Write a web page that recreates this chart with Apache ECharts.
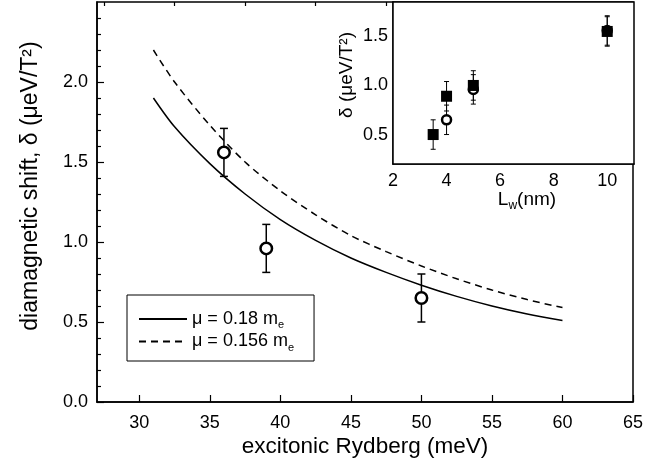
<!DOCTYPE html>
<html>
<head>
<meta charset="utf-8">
<script src="https://cdn.jsdelivr.net/npm/echarts@6/dist/echarts.min.js"></script>
<style>
html, body { margin: 0; padding: 0; background: #fff; }
#chart { width: 670px; height: 470px; }
</style>
</head>
<body>
<div id="chart"></div>
<script>
// Measured diamagnetic shifts vs. excitonic Rydberg
const rydberg = [36, 39, 50];
const shift = [1.56, 0.96, 0.65];
const shiftErr = [0.15, 0.15, 0.15];

// Calculated shift for two reduced masses
const curveRydberg = [31, 32.5, 35, 37.5, 40, 42.5, 45, 47.5, 50, 52.5, 55, 57.5, 60];
const curveMu018 = [1.90, 1.72, 1.49, 1.30, 1.14, 1.01, 0.90, 0.81, 0.73, 0.66, 0.60, 0.55, 0.51];
const curveMu0156 = [2.20, 2.00, 1.73, 1.50, 1.32, 1.17, 1.04, 0.94, 0.85, 0.77, 0.70, 0.64, 0.59];
const curveNames = ['μ = 0.18 m_e', 'μ = 0.156 m_e'];

// Main axis ticks
const mainXTicks = [30, 35, 40, 45, 50, 55, 60, 65];
const mainXMinorTicks = [27.5, 32.5, 37.5, 42.5, 47.5, 52.5, 57.5, 62.5];
const mainYTicks = [0, 0.5, 1.0, 1.5, 2.0];

// Inset: shift vs. well width
const wellWidthSq = [3.5, 4, 5, 10];
const deltaSq = [0.50, 0.89, 1.00, 1.55];
const deltaSqErr = [0.15, 0.15, 0.15, 0.15];
const wellWidthCirc = [4, 5, 10];
const deltaCirc = [0.65, 0.96, 1.56];
const deltaCircErr = [0.15, 0.15, 0.15];

const insetXTicks = [2, 4, 6, 8, 10];
const insetXMinorTicks = [3, 5, 7, 9];
const insetYTicks = [0.5, 1.0, 1.5];
const insetYMinorTicks = [0.25, 0.75, 1.25, 1.75];

const FONT = '"Liberation Sans", Arial, Helvetica, sans-serif';
const BLACK = '#000';

function zip(xs, ys) { return xs.map((x, i) => [x, ys[i]]); }

function majorAxis(opts) {
  return Object.assign({
    type: 'value',
    axisLine: { show: true, lineStyle: { color: BLACK, width: 1.5 } },
    splitLine: { show: false }
  }, opts);
}

function ticks(values, len) {
  return { show: true, inside: true, length: len, customValues: values, lineStyle: { color: BLACK, width: 1.2 } };
}

function labels(values, margin, fmt) {
  const l = { color: BLACK, fontSize: 18, fontFamily: FONT, margin: margin, customValues: values };
  if (fmt) l.formatter = fmt;
  return l;
}

function minorAxis(opts, values, len) {
  return Object.assign({
    type: 'value',
    axisLine: { show: false },
    axisTick: ticks(values, len),
    axisLabel: { show: false },
    splitLine: { show: false }
  }, opts);
}

function errorBars(xs, ys, errs, xi, yi, capHalf, lw, z) {
  return {
    type: 'custom',
    xAxisIndex: xi,
    yAxisIndex: yi,
    z: z,
    silent: true,
    data: xs.map((x, i) => [x, ys[i] - errs[i], ys[i] + errs[i]]),
    encode: { x: 0, y: [1, 2] },
    renderItem: function (params, api) {
      const lo = api.coord([api.value(0), api.value(1)]);
      const hi = api.coord([api.value(0), api.value(2)]);
      const style = { stroke: BLACK, lineWidth: lw };
      return {
        type: 'group',
        children: [
          { type: 'line', shape: { x1: lo[0], y1: lo[1], x2: hi[0], y2: hi[1] }, style: style },
          { type: 'line', shape: { x1: lo[0] - capHalf, y1: lo[1], x2: lo[0] + capHalf, y2: lo[1] }, style: style },
          { type: 'line', shape: { x1: hi[0] - capHalf, y1: hi[1], x2: hi[0] + capHalf, y2: hi[1] }, style: style }
        ]
      };
    }
  };
}

const oneDecimal = v => v.toFixed(1);

const chart = echarts.init(document.getElementById('chart'));
chart.setOption({
  animation: false,
  backgroundColor: '#fff',
  grid: [
    { left: 97, top: 2, right: 37, bottom: 68, show: true, borderColor: BLACK, borderWidth: 1.5, backgroundColor: 'transparent' },
    { left: 393, top: 2, right: 36, bottom: 306, show: true, borderColor: BLACK, borderWidth: 1.5, backgroundColor: '#fff', z: 3 }
  ],
  xAxis: [
    majorAxis({ gridIndex: 0, min: 27, max: 65, axisTick: ticks(mainXTicks, 7), axisLabel: labels(mainXTicks, 12) }),
    minorAxis({ gridIndex: 0, min: 27, max: 65 }, mainXMinorTicks, 4),
    majorAxis({ gridIndex: 1, min: 2, max: 11, axisTick: ticks(insetXTicks, 5), axisLabel: labels(insetXTicks, 8) }),
    minorAxis({ gridIndex: 1, min: 2, max: 11 }, insetXMinorTicks, 3)
  ],
  yAxis: [
    majorAxis({
      gridIndex: 0, min: 0, max: 2.5, interval: 0.5,
      axisTick: ticks(mainYTicks, 7),
      minorTick: { show: true, splitNumber: 5, length: 4, lineStyle: { color: BLACK, width: 1.2 } },
      axisLabel: labels(mainYTicks, 9, oneDecimal)
    }),
    majorAxis({ gridIndex: 1, min: 0.2, max: 1.85, axisTick: ticks(insetYTicks, 5), axisLabel: labels(insetYTicks, 5, oneDecimal) }),
    minorAxis({ gridIndex: 1, min: 0.2, max: 1.85 }, insetYMinorTicks, 3)
  ],
  legend: {
    orient: 'vertical',
    left: 127,
    top: 295,
    itemWidth: 48,
    itemHeight: 12,
    itemGap: 2,
    padding: [15, 20, 8, 11],
    borderColor: BLACK,
    borderWidth: 1,
    backgroundColor: '#fff',
    data: curveNames,
    itemStyle: { color: 'rgba(0,0,0,0)', borderWidth: 0, opacity: 0 },
    formatter: name => name.replace(' m_e', ' m{sub|e}'),
    textStyle: {
      fontSize: 18, fontFamily: FONT, color: BLACK,
      rich: { sub: { fontSize: 11, fontFamily: FONT, color: BLACK, padding: [12, 0, 0, 0] } }
    }
  },
  graphic: [
    {
      type: 'text', x: 31, y: 186, rotation: Math.PI / 2,
      style: { text: 'diamagnetic shift, δ (μeV/T²)', font: '23px ' + FONT, fill: BLACK, align: 'center', verticalAlign: 'middle' }
    },
    {
      type: 'text', x: 365, y: 447,
      style: { text: 'excitonic Rydberg (meV)', font: '22.5px ' + FONT, fill: BLACK, align: 'center', verticalAlign: 'middle' }
    },
    {
      type: 'text', x: 347, y: 75, rotation: Math.PI / 2, z: 10,
      style: { text: 'δ (μeV/T²)', font: '19px ' + FONT, fill: BLACK, align: 'center', verticalAlign: 'middle' }
    },
    {
      type: 'text', x: 527, y: 200, z: 10,
      style: {
        text: '{m|L}{s|w}{m|(nm)}', align: 'center', verticalAlign: 'middle', fill: BLACK,
        rich: { m: { fontSize: 19, fontFamily: FONT, fill: BLACK }, s: { fontSize: 12, fontFamily: FONT, fill: BLACK, padding: [12, 0, 0, 0] } }
      }
    }
  ],
  series: [
    {
      name: curveNames[0], type: 'line', xAxisIndex: 0, yAxisIndex: 0,
      data: zip(curveRydberg, curveMu018), smooth: 0.3, symbol: 'none',
      lineStyle: { color: BLACK, width: 1.5, type: 'solid' }, itemStyle: { color: BLACK }, z: 2
    },
    {
      name: curveNames[1], type: 'line', xAxisIndex: 0, yAxisIndex: 0,
      data: zip(curveRydberg, curveMu0156), smooth: 0.3, symbol: 'none',
      lineStyle: { color: BLACK, width: 1.5, type: [7, 5] }, itemStyle: { color: BLACK }, z: 2
    },
    errorBars(rydberg, shift, shiftErr, 0, 0, 4, 1.5, 3),
    {
      type: 'scatter', xAxisIndex: 0, yAxisIndex: 0, data: zip(rydberg, shift),
      symbol: 'circle', symbolSize: 11.5,
      itemStyle: { color: '#fff', borderColor: BLACK, borderWidth: 2.5, opacity: 1 }, z: 4
    },
    errorBars(wellWidthCirc, deltaCirc, deltaCircErr, 2, 1, 2.5, 1, 5),
    errorBars(wellWidthSq, deltaSq, deltaSqErr, 2, 1, 2.5, 1, 5),
    {
      type: 'scatter', xAxisIndex: 2, yAxisIndex: 1, data: zip(wellWidthCirc, deltaCirc),
      symbol: 'circle', symbolSize: 9,
      itemStyle: { color: '#fff', borderColor: BLACK, borderWidth: 2.5, opacity: 1 }, z: 6
    },
    {
      type: 'scatter', xAxisIndex: 2, yAxisIndex: 1, data: zip(wellWidthSq, deltaSq),
      symbol: 'rect', symbolSize: 11,
      itemStyle: { color: BLACK, opacity: 1 }, z: 7
    }
  ]
});
</script>
</body>
</html>
